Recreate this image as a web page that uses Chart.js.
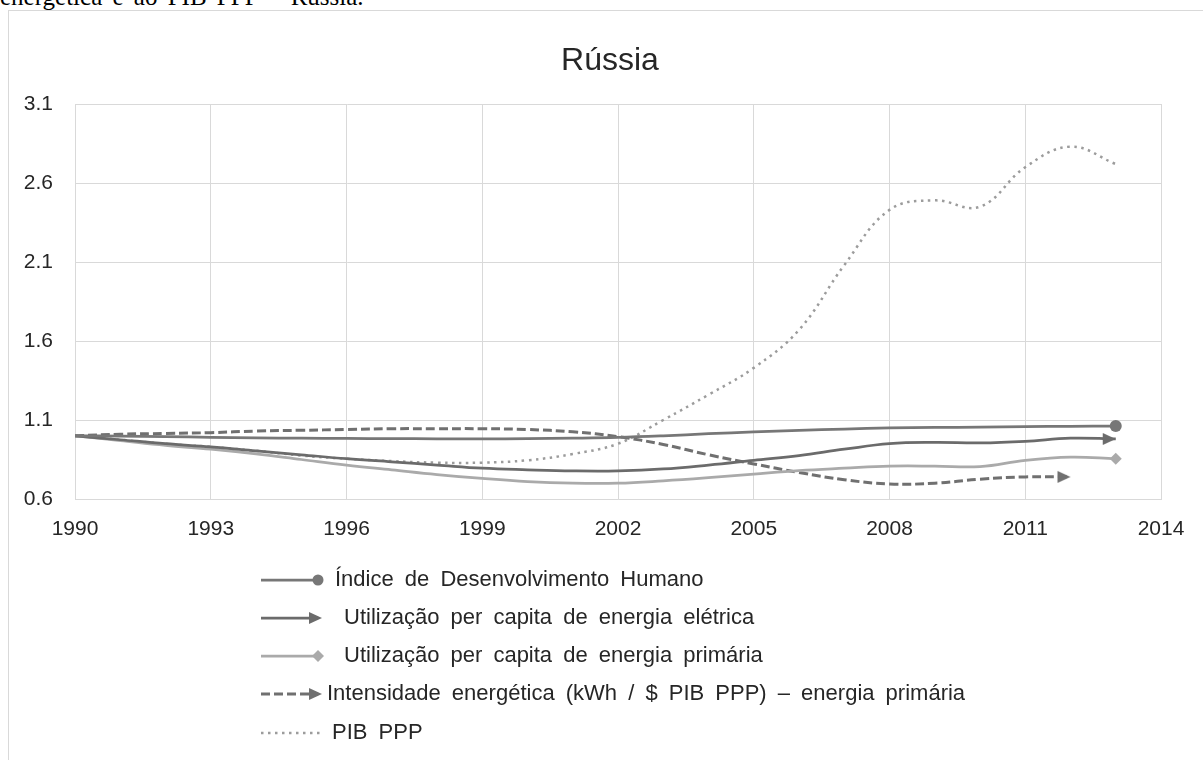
<!DOCTYPE html>
<html>
<head>
<meta charset="utf-8">
<script src="https://cdn.jsdelivr.net/npm/chart.js@4"></script>
<style>
  body { margin: 0; background: #fff; overflow: hidden; }
  .legenda-topo {
    position: absolute; left: 0; top: -16px;
    font: 25px "Liberation Serif", serif; line-height: 25px;
    color: #000; word-spacing: 4px; white-space: nowrap;
  }
  .caixa {
    position: absolute; left: 8px; top: 10px;
    width: 1220px; height: 800px;
    border: 1px solid #d9d9d9;
  }
  canvas { position: absolute; left: 0; top: 0; }
</style>
</head>
<body>
<div class="legenda-topo">energética e ao PIB PPP – Rússia.</div>
<div class="caixa"><canvas id="grafico" width="1194" height="749"></canvas></div>
<script>
// Índices (1990 = 1)
const anos = [1990, 1991, 1992, 1993, 1994, 1995, 1996, 1997, 1998, 1999, 2000, 2001,
              2002, 2003, 2004, 2005, 2006, 2007, 2008, 2009, 2010, 2011, 2012, 2013];
const idh = [1.00, 0.998, 0.995, 0.99, 0.987, 0.985, 0.983, 0.982, 0.981, 0.981, 0.982, 0.985,
             0.99, 1.0, 1.013, 1.025, 1.035, 1.043, 1.05, 1.053, 1.055, 1.058, 1.06, 1.062];
const eletrica = [1.00, 0.975, 0.95, 0.93, 0.905, 0.88, 0.855, 0.835, 0.815, 0.795, 0.785, 0.778,
                  0.778, 0.79, 0.815, 0.845, 0.875, 0.915, 0.95, 0.958, 0.955, 0.965, 0.985, 0.98];
const primaria = [1.00, 0.97, 0.94, 0.915, 0.885, 0.85, 0.815, 0.785, 0.755, 0.73, 0.71, 0.70,
                  0.70, 0.715, 0.735, 0.758, 0.78, 0.795, 0.808, 0.808, 0.805, 0.845, 0.865, 0.855];
const intensidade = [1.00, 1.01, 1.015, 1.02, 1.03, 1.035, 1.04, 1.045, 1.045, 1.045, 1.04, 1.025,
                     0.995, 0.945, 0.88, 0.822, 0.768, 0.722, 0.695, 0.70, 0.725, 0.74, 0.74];
const pib = [1.00, 0.975, 0.95, 0.93, 0.905, 0.875, 0.855, 0.84, 0.83, 0.83, 0.845, 0.885,
             0.95, 1.10, 1.26, 1.43, 1.67, 2.08, 2.43, 2.49, 2.45, 2.70, 2.83, 2.72];

const xTicks = [1990, 1993, 1996, 1999, 2002, 2005, 2008, 2011, 2014];
const yTicks = [0.6, 1.1, 1.6, 2.1, 2.6, 3.1];

const titulo = 'Rússia';
const nomes = [
  'Índice de Desenvolvimento Humano',
  'Utilização per capita de energia elétrica',
  'Utilização per capita de energia primária',
  'Intensidade energética (kWh / $ PIB PPP) – energia primária',
  'PIB PPP'
];

const FONTE = '"Liberation Sans", Arial, sans-serif';
const COR_TEXTO = '#262626';
const COR_GRADE = '#d9d9d9';

// seta com a ponta no centro da imagem (ponta = último ponto)
function criaSeta(cor) {
  const c = document.createElement('canvas');
  c.width = 28; c.height = 14;
  const g = c.getContext('2d');
  g.fillStyle = cor;
  g.beginPath();
  g.moveTo(1, 1);
  g.lineTo(14, 7);
  g.lineTo(1, 13);
  g.closePath();
  g.fill();
  return c;
}

function pontos(valores) {
  return valores.map((v, i) => ({ x: anos[i], y: v }));
}

function soUltimo(valor) {
  return ctx => ctx.dataIndex === ctx.dataset.data.length - 1 ? valor : 0;
}

const series = [
  { nome: nomes[0], dados: idh, cor: '#777777', largura: 2.75, traco: [], marca: 'circle', raio: 6 },
  { nome: nomes[1], dados: eletrica, cor: '#6b6b6b', largura: 2.75, traco: [], marca: criaSeta('#6b6b6b'), raio: 6 },
  { nome: nomes[2], dados: primaria, cor: '#aaaaaa', largura: 2.75, traco: [], marca: 'rectRot', raio: 6 },
  { nome: nomes[3], dados: intensidade, cor: '#707070', largura: 3, traco: [9, 4], marca: criaSeta('#707070'), raio: 6 },
  { nome: nomes[4], dados: pib, cor: '#9c9c9c', largura: 2.5, traco: [2.5, 4.5], marca: 'circle', raio: 0 }
];

// título e legenda desenhados à mão (posições do original)
const textosPlugin = {
  id: 'textos',
  afterDraw(chart) {
    const ctx = chart.ctx;
    ctx.save();
    ctx.fillStyle = COR_TEXTO;
    ctx.font = '32px ' + FONTE;
    ctx.textAlign = 'center';
    ctx.textBaseline = 'alphabetic';
    ctx.fillText(titulo, 610 - 9, 70 - 11);
    ctx.restore();

    const x0 = 261 - 9, x1 = 322 - 9;
    const linhasY = [580, 618, 656, 694, 733];
    const textoX = [335, 344, 344, 327, 332];
    series.forEach((s, i) => {
      const y = linhasY[i] - 11;
      ctx.save();
      ctx.strokeStyle = s.cor;
      ctx.lineWidth = s.largura;
      ctx.setLineDash(s.traco);
      ctx.beginPath();
      const fim = (s.marca instanceof HTMLCanvasElement) ? x1 - 8 : x1;
      ctx.moveTo(x0, y);
      ctx.lineTo(fim, y);
      ctx.stroke();
      ctx.setLineDash([]);
      ctx.fillStyle = s.cor;
      if (s.marca === 'circle' && s.raio > 0) {
        ctx.beginPath();
        ctx.arc(x1 - 4, y, 5.5, 0, Math.PI * 2);
        ctx.fill();
      } else if (s.marca === 'rectRot') {
        ctx.beginPath();
        ctx.moveTo(x1 - 4, y - 6);
        ctx.lineTo(x1 + 2, y);
        ctx.lineTo(x1 - 4, y + 6);
        ctx.lineTo(x1 - 10, y);
        ctx.closePath();
        ctx.fill();
      } else if (s.marca instanceof HTMLCanvasElement) {
        ctx.drawImage(s.marca, x1 - 14, y - 7);
      }
      ctx.fillStyle = COR_TEXTO;
      ctx.font = '22px ' + FONTE;
      ctx.textBaseline = 'middle';
      ctx.textAlign = 'left';
      if ('wordSpacing' in ctx) ctx.wordSpacing = '5px';
      ctx.fillText(s.nome, textoX[i] - 9, y);
      ctx.restore();
    });
  }
};

new Chart(document.getElementById('grafico'), {
  type: 'line',
  data: {
    datasets: series.map(s => ({
      label: s.nome,
      data: pontos(s.dados),
      borderColor: s.cor,
      backgroundColor: s.cor,
      borderWidth: s.largura,
      borderDash: s.traco,
      borderCapStyle: 'butt',
      tension: 0.4,
      fill: false,
      pointStyle: s.marca,
      pointRadius: soUltimo(s.raio),
      pointHoverRadius: 0,
      pointBorderWidth: 0,
      pointBackgroundColor: s.cor,
      pointBorderColor: s.cor
    }))
  },
  options: {
    responsive: false,
    animation: false,
    devicePixelRatio: 1,
    layout: { padding: { left: 0, right: 42, top: 93, bottom: 221 } },
    scales: {
      x: {
        type: 'linear',
        min: 1990,
        max: 2014,
        afterBuildTicks: scale => { scale.ticks = xTicks.map(v => ({ value: v })); },
        afterFit: scale => { scale.height = 40; },
        ticks: {
          callback: v => String(v),
          color: COR_TEXTO,
          font: { family: FONTE, size: 21 },
          padding: 18,
          maxRotation: 0,
          autoSkip: false
        },
        grid: { color: COR_GRADE, lineWidth: 1, drawTicks: false },
        border: { color: COR_GRADE, width: 1 }
      },
      y: {
        min: 0.6,
        max: 3.1,
        afterBuildTicks: scale => { scale.ticks = yTicks.map(v => ({ value: v })); },
        afterFit: scale => { scale.width = 66; },
        ticks: {
          callback: v => v.toFixed(1),
          color: COR_TEXTO,
          font: { family: FONTE, size: 21 },
          padding: 22
        },
        grid: { color: COR_GRADE, lineWidth: 1, drawTicks: false },
        border: { color: COR_GRADE, width: 1 }
      }
    },
    plugins: {
      legend: { display: false },
      tooltip: { enabled: false },
      title: { display: false }
    }
  },
  plugins: [textosPlugin]
});
</script>
</body>
</html>
